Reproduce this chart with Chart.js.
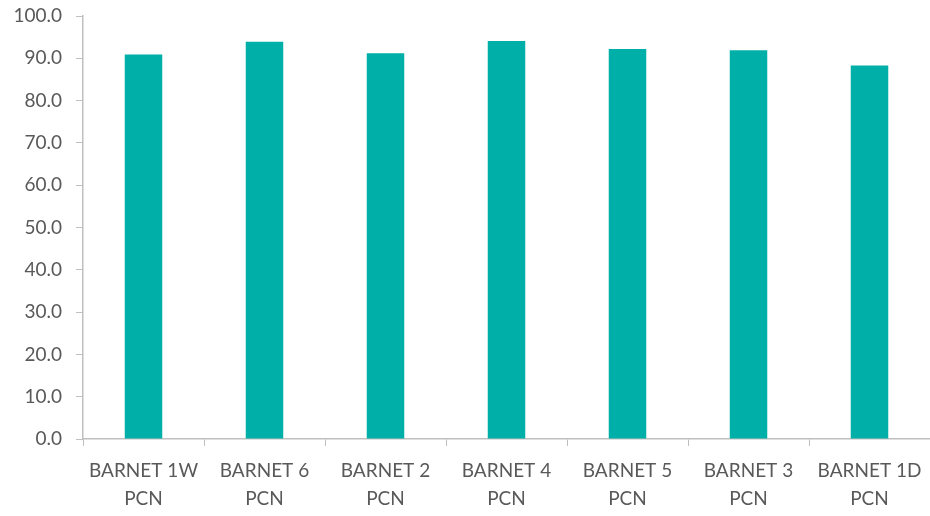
<!DOCTYPE html>
<html>
<head>
<meta charset="utf-8">
<script src="https://cdn.jsdelivr.net/npm/chart.js@4"></script>
<style>
  html, body { margin: 0; padding: 0; background: #fff; }
  #wrap { width: 930px; height: 516px; }
</style>
</head>
<body>
<div id="wrap"><canvas id="chart"></canvas></div>
<script>
// values
const categories = [
    ["BARNET 1W", "PCN"],
    ["BARNET 6", "PCN"],
    ["BARNET 2", "PCN"],
    ["BARNET 4", "PCN"],
    ["BARNET 5", "PCN"],
    ["BARNET 3", "PCN"],
    ["BARNET 1D", "PCN"]
];
const scores = [90.9, 93.9, 91.2, 94.1, 92.2, 91.9, 88.3];

const axisColor = "#BFBFBF";
const textColor = "#595959";
const fontFamily = "Lato, 'Open Sans', sans-serif";

const ctx = document.getElementById("chart").getContext("2d");

new Chart(ctx, {
    type: "bar",
    data: {
        labels: categories,
        datasets: [{
            data: scores,
            backgroundColor: "#00B0A8",
            categoryPercentage: 1,
            barPercentage: 0.31
        }]
    },
    options: {
        responsive: true,
        maintainAspectRatio: false,
        animation: false,
        layout: { padding: { top: 16, right: 0, left: 0, bottom: 0 } },
        plugins: {
            legend: { display: false },
            tooltip: { enabled: false }
        },
        scales: {
            x: {
                grid: {
                    drawOnChartArea: false,
                    color: axisColor,
                    tickLength: 7,
                    offset: true
                },
                border: { color: axisColor, width: 1.5 },
                ticks: {
                    color: textColor,
                    font: { family: fontFamily, size: 19, lineHeight: 1.47 },
                    maxRotation: 0,
                    padding: 11
                },
                afterFit: scale => {
                    scale.height = 77;
                    scale.paddingLeft = 0;
                    scale.paddingRight = 0;
                }
            },
            y: {
                min: 0,
                max: 100,
                grid: {
                    drawOnChartArea: false,
                    color: axisColor,
                    tickLength: 7
                },
                border: { color: axisColor, width: 1.5 },
                ticks: {
                    stepSize: 10,
                    color: textColor,
                    font: { family: fontFamily, size: 19 },
                    padding: 14,
                    callback: v => v.toFixed(1)
                },
                afterFit: scale => {
                    scale.width = 83;
                    scale.paddingTop = 0;
                    scale.paddingBottom = 0;
                }
            }
        }
    }
});
</script>
</body>
</html>
